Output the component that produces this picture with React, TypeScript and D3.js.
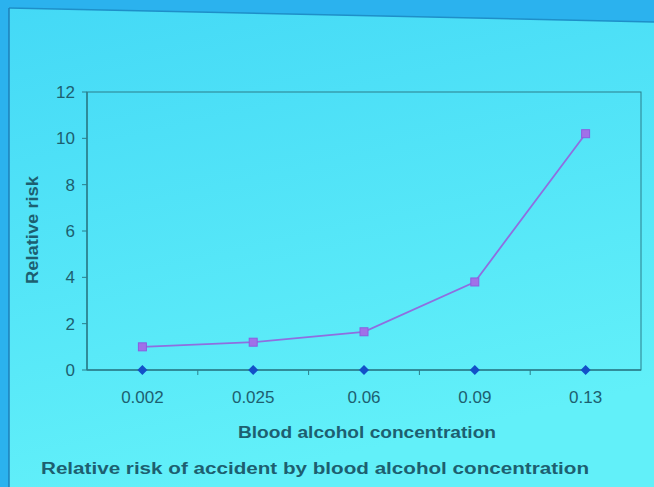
import * as d3 from 'd3'

const categories = ['0.002', '0.025', '0.06', '0.09', '0.13'];
const riskValues = [1.0, 1.2, 1.65, 3.8, 10.2];
const baseValues = [0, 0, 0, 0, 0];
const yTicks = [0, 2, 4, 6, 8, 10, 12];

function App() {
  const width = 654;
  const height = 487;
  const left = 87;
  const right = 641;
  const top = 92;
  const bottom = 370;
  const font = 'Liberation Sans, Arial, sans-serif';

  const x = d3.scaleBand().domain(categories).range([left, right]);
  const y = d3.scaleLinear().domain([0, 12]).range([bottom, top]);

  const line = d3.line<number>()
    .x((_, i) => x(categories[i])! + x.bandwidth() / 2)
    .y(d => y(d));

  const textColor = '#1d5f70';
  const axisColor = '#2b7f8c';

  return (
    <svg width={width} height={height} style={{ position: 'absolute', left: 0, top: 0 }}>
      <defs>
        <linearGradient id="bg" x1="0" y1="0" x2="0.3" y2="1">
          <stop offset="0" stopColor="#44d9f6" />
          <stop offset="1" stopColor="#62f0f9" />
        </linearGradient>
      </defs>
      <rect width={width} height={height} fill="#2bb2ee" />
      <polygon points={`9,8 ${width},22 ${width},${height} 9,${height}`} fill="url(#bg)" />
      <line x1={9} y1={8} x2={width} y2={22} stroke="#1e8fc8" strokeWidth={1.5} />
      <line x1={9} y1={8} x2={9} y2={height} stroke="#1e7fb8" strokeWidth={1.5} />

      {/* plot area border */}
      <rect x={left} y={top} width={right - left} height={bottom - top} fill="none" stroke={axisColor} strokeWidth={1} />
      <line x1={left} y1={top} x2={left} y2={bottom} stroke={axisColor} strokeWidth={1.5} />
      <line x1={left} y1={bottom} x2={right} y2={bottom} stroke={axisColor} strokeWidth={1.5} />

      {yTicks.map(t => (
        <g key={t}>
          <line x1={left - 5} x2={left} y1={y(t)} y2={y(t)} stroke={axisColor} />
          <text x={left - 12} y={y(t)} dy="0.36em" textAnchor="end" fontFamily={font} fontSize={17} fill={textColor}>{t}</text>
        </g>
      ))}

      {categories.map((c, i) => (
        <g key={c}>
          {i > 0 && <line x1={x(c)} x2={x(c)} y1={bottom} y2={bottom + 5} stroke={axisColor} />}
          <text x={x(c)! + x.bandwidth() / 2} y={bottom + 33} textAnchor="middle" fontFamily={font} fontSize={17} fill={textColor}>{c}</text>
        </g>
      ))}

      <path d={line(riskValues)!} fill="none" stroke="#8f6ee0" strokeWidth={1.8} />
      {riskValues.map((v, i) => (
        <rect key={i} x={x(categories[i])! + x.bandwidth() / 2 - 4} y={y(v) - 4} width={8} height={8} fill="#a070e8" stroke="#8a5ee0" />
      ))}
      {baseValues.map((v, i) => {
        const cx = x(categories[i])! + x.bandwidth() / 2;
        const cy = y(v);
        return <path key={i} d={`M${cx},${cy - 5}L${cx + 5},${cy}L${cx},${cy + 5}L${cx - 5},${cy}Z`} fill="#1350c8" />;
      })}

      <text x={367} y={438} textAnchor="middle" fontFamily={font} fontWeight="bold" fontSize={16} textLength={258} lengthAdjust="spacingAndGlyphs" fill={textColor}>Blood alcohol concentration</text>
      <text transform={`translate(38,230) rotate(-90)`} textAnchor="middle" fontFamily={font} fontWeight="bold" fontSize={16} textLength={108} lengthAdjust="spacingAndGlyphs" fill={textColor}>Relative risk</text>
      <text x={315} y={474} textAnchor="middle" fontFamily={font} fontWeight="bold" fontSize={16} textLength={548} lengthAdjust="spacingAndGlyphs" fill={textColor}>Relative risk of accident by blood alcohol concentration</text>
    </svg>
  );
}

export default App;
